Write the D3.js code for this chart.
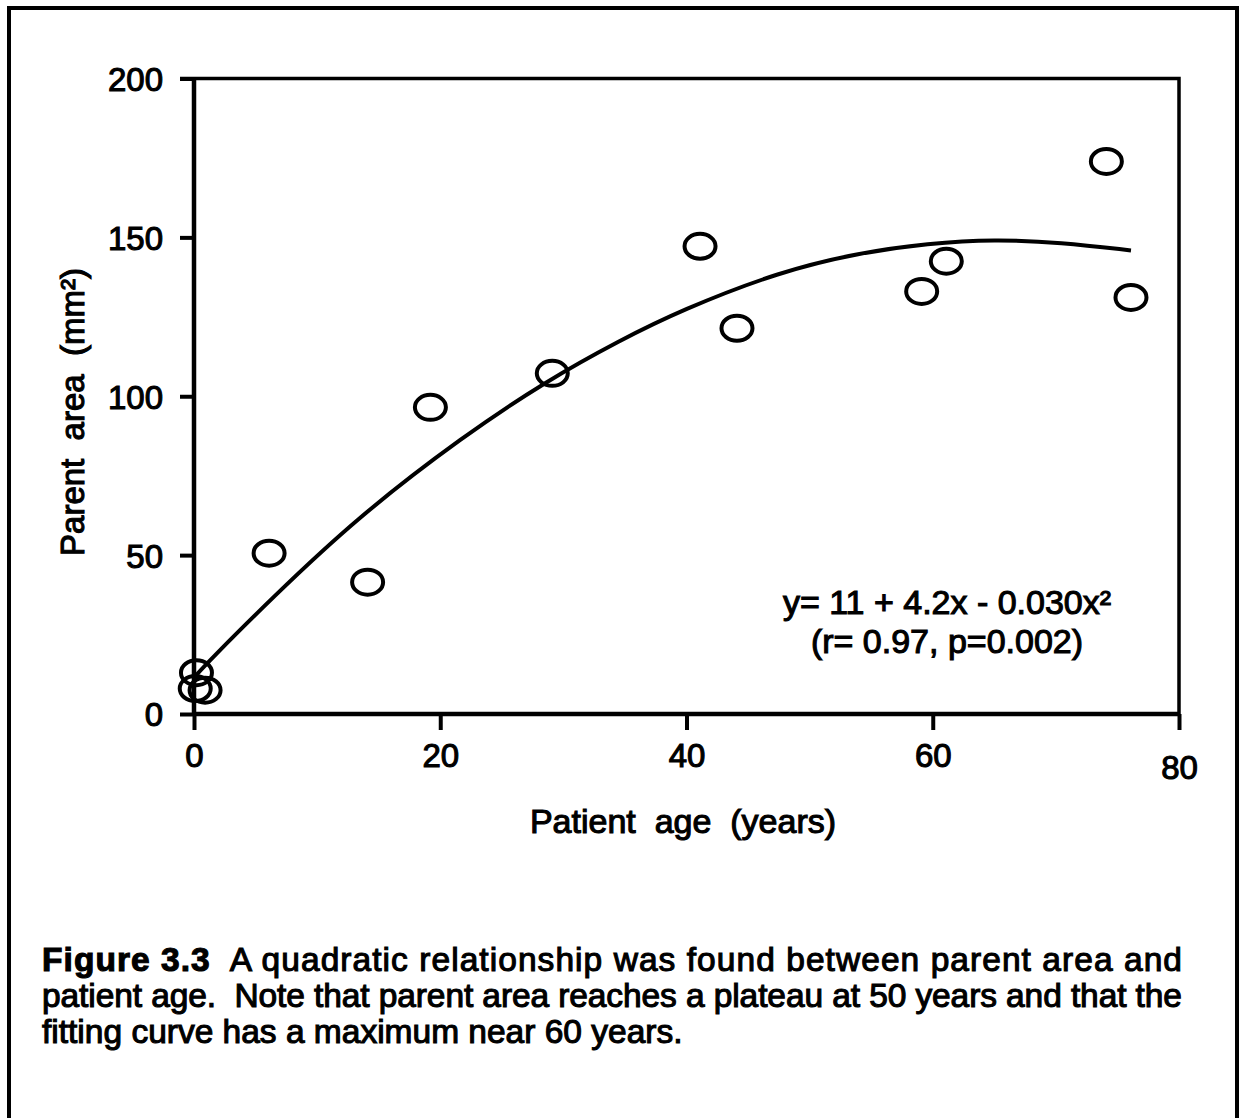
<!DOCTYPE html>
<html>
<head>
<meta charset="utf-8">
<script src="https://cdn.jsdelivr.net/npm/d3@7"></script>
<style>
  html, body { margin: 0; padding: 0; background: #fff; }
  svg { display: block; }
  text { font-family: "Liberation Sans", Arial, sans-serif; fill: #000; }
  .heavy { stroke: #000; stroke-width: 1.1px; }
</style>
</head>
<body>
<svg id="chart" width="1240" height="1118"></svg>
<script>
// Patients: age (years) and parent area (mm²)
const patientAge  = [0.2, 0.1, 0.9, 6.1, 14.1, 19.2, 29.1, 41.1, 44.1, 59.1, 61.1, 74.1, 76.1];
const parentArea  = [13, 8, 7.5, 50.6, 41.5, 96.5, 107.2, 147.2, 121.4, 133, 142.5, 173.9, 131.1];

// Fitted quadratic curve, sampled along its length
const fitAge  = [0, 1.3, 6.2, 13.3, 21.9, 28.7, 34.6, 39.5, 47.6, 54.1, 59.6, 65, 70.4, 76.1];
const fitArea = [11.5, 17, 36, 62, 87.5, 105, 117.6, 127, 139.3, 145.2, 148.1, 149.4, 148.4, 145.9];

const xTicks = [0, 20, 40, 60, 80];
const yTicks = [0, 50, 100, 150, 200];

const xTitle = "Patient  age  (years)";
const yTitle = "Parent  area  (mm²)";
const eqLine1 = "y= 11 + 4.2x - 0.030x²";
const eqLine2 = "(r= 0.97, p=0.002)";
const captionLead = "Figure 3.3";
const captionLines = [
  "  A quadratic relationship was found between parent area and",
  "patient age.  Note that parent area reaches a plateau at 50 years and that the",
  "fitting curve has a maximum near 60 years."
];

const svg = d3.select("#chart");

// Outer frame of the figure
svg.append("rect")
  .attr("x", 9).attr("y", 8)
  .attr("width", 1228).attr("height", 1130)
  .attr("fill", "none").attr("stroke", "#000").attr("stroke-width", 4);

const plotL = 194, plotR = 1179, plotT = 78.5, plotB = 714;
const x = d3.scaleLinear().domain([0, 80]).range([plotL, plotR]);
const y = d3.scaleLinear().domain([0, 200]).range([plotB, plotT]);

// Plot box: top and right edges
svg.append("path")
  .attr("d", `M${plotL - 14},${plotT}H${plotR}V${plotB}`)
  .attr("fill", "none").attr("stroke", "#000").attr("stroke-width", 3.5);

// Axes
const xAxis = svg.append("g")
  .attr("transform", `translate(0,${plotB})`)
  .call(d3.axisBottom(x).tickValues(xTicks).tickSize(16).tickPadding(14).tickFormat(d3.format("d")));
const yAxis = svg.append("g")
  .attr("transform", `translate(${plotL},0)`)
  .call(d3.axisLeft(y).tickValues(yTicks).tickSize(14).tickPadding(17).tickFormat(d3.format("d")));

[xAxis, yAxis].forEach(g => {
  g.select(".domain").attr("stroke", "#000").attr("stroke-width", 4.5);
  g.selectAll(".tick line").attr("stroke", "#000").attr("stroke-width", 4);
  g.selectAll(".tick text")
    .attr("font-size", 33)
    .attr("font-family", "Liberation Sans, Arial, sans-serif")
    .attr("class", "heavy");
});
// keep the axis lines flush with the plot box (no outer caps)
xAxis.select(".domain").attr("d", `M${plotL},0H${plotR}`);
yAxis.select(".domain").attr("d", `M0,${plotB}V${plotT}`);
// the last x label sits a little lower
xAxis.selectAll(".tick").filter(d => d === 80).select("text").attr("dy", "1.05em");
yAxis.selectAll(".tick text").attr("dy", "0.36em");

// Fitted curve
const line = d3.line()
  .x((d, i) => x(fitAge[i]))
  .y((d, i) => y(fitArea[i]))
  .curve(d3.curveBasis);
svg.append("path")
  .datum(fitAge)
  .attr("d", line)
  .attr("fill", "none")
  .attr("stroke", "#000")
  .attr("stroke-width", 4);

// Data points as open circles
svg.append("g").selectAll("ellipse")
  .data(patientAge)
  .join("ellipse")
  .attr("cx", d => x(d))
  .attr("cy", (d, i) => y(parentArea[i]))
  .attr("rx", 15.5)
  .attr("ry", 12.5)
  .attr("fill", "none")
  .attr("stroke", "#000")
  .attr("stroke-width", 4);

// Equation annotation
svg.append("text")
  .attr("x", 947).attr("y", 614)
  .attr("text-anchor", "middle")
  .attr("font-size", 34)
  .attr("class", "heavy")
  .text(eqLine1);
svg.append("text")
  .attr("x", 947).attr("y", 653)
  .attr("text-anchor", "middle")
  .attr("font-size", 34)
  .attr("class", "heavy")
  .text(eqLine2);

// Axis titles
svg.append("text")
  .attr("x", 683).attr("y", 833)
  .attr("text-anchor", "middle")
  .attr("font-size", 34)
  .attr("class", "heavy")
  .style("white-space", "pre")
  .text(xTitle);
svg.append("text")
  .attr("transform", `translate(84,412) rotate(-90)`)
  .attr("text-anchor", "middle")
  .attr("font-size", 33)
  .attr("class", "heavy")
  .style("white-space", "pre")
  .text(yTitle);

// Caption
const capBase = [971, 1007, 1043];
captionLines.forEach((s, i) => {
  const t = svg.append("text")
    .attr("x", 42).attr("y", capBase[i])
    .attr("font-size", 33.5)
    .attr("class", "heavy")
    .style("white-space", "pre");
  if (i === 0) {
    t.append("tspan").attr("font-weight", "bold").text(captionLead);
  }
  t.append("tspan").text(s);
  if (i < 2) t.attr("textLength", 1140).attr("lengthAdjust", "spacing");
});
</script>
</body>
</html>
